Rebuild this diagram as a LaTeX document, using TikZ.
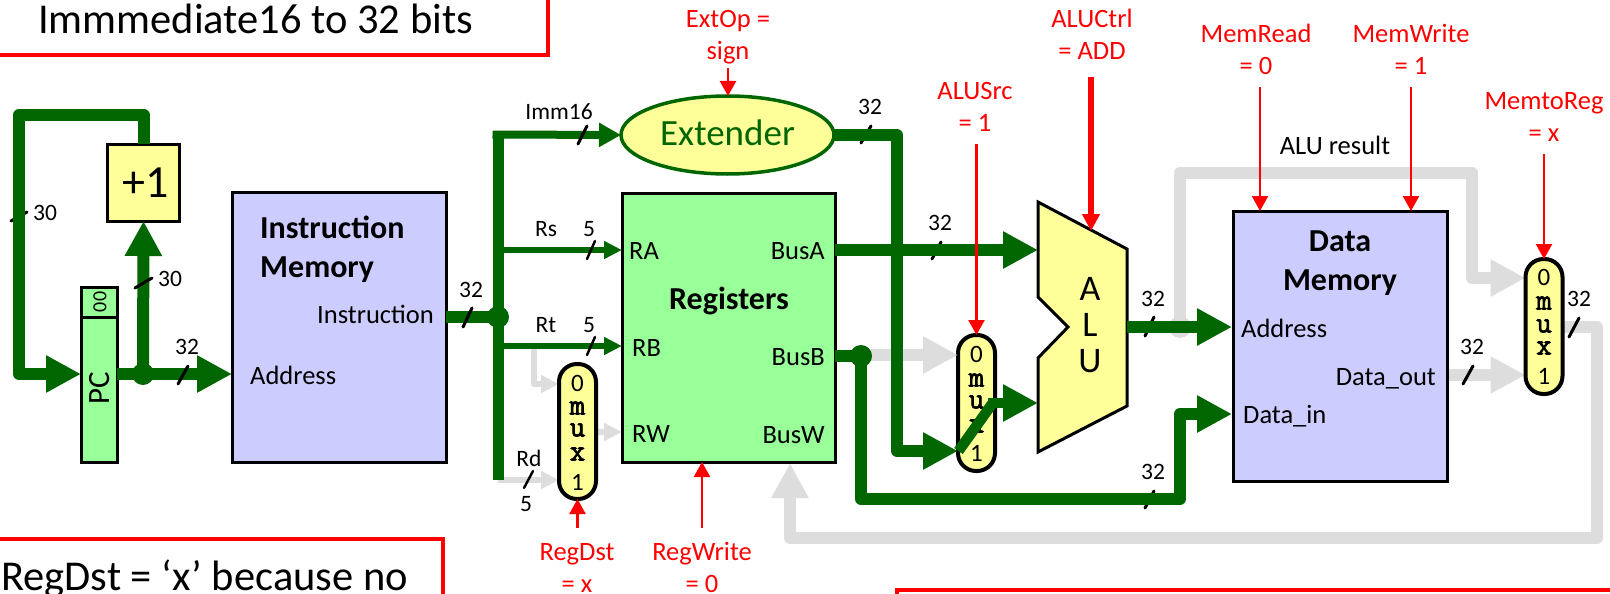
\documentclass[tikz,border=0pt]{standalone}
\usepackage{fontspec}
\setmainfont{Carlito}
\newfontfamily\muxfont{Latin Modern Mono}[FakeBold=2.5]
\usetikzlibrary{arrows.meta,shapes.geometric}
\pgfdeclarelayer{background}
\pgfsetlayers{background,main}
\definecolor{dkgreen}{HTML}{006600}
\definecolor{ltgreen}{HTML}{99FF99}
\definecolor{ltblue}{HTML}{CCCCFF}
\definecolor{ltyellow}{HTML}{FFFF99}
\definecolor{wiregray}{HTML}{DDDDDD}
\newcommand{\fs}[2]{\fontsize{#1}{#2}\selectfont}
% two-line label: the fixed strut makes the node's north edge 20pt above the first baseline
\newcommand{\twoline}[2]{\rule{0pt}{20pt}#1\\#2}
\newcommand{\muxlabels}[7]{%
  \node[muxdigit] (#1zero) at (#2,#3) {0};
  \node[muxletter] (#1m) at (#2,#4) {m};
  \node[muxletter] (#1u) at (#2,#5) {u};
  \node[muxletter] (#1x) at (#2,#6) {x};
  \node[muxdigit] (#1one) at (#2,#7) {1};
}
\tikzset{
  block/.style={draw=black,line width=3pt,inner sep=0pt,outer sep=0pt,line join=miter},
  muxbox/.style={block,line width=4pt,fill=ltyellow,rounded corners=18pt,minimum width=37pt},
  muxdigit/.style={inner sep=0pt,font=\fs{25}{30}},
  muxletter/.style={inner sep=0pt,font=\muxfont\fs{30}{30}},
  dot/.style={circle,fill=#1,inner sep=0pt,minimum size=22pt,outer sep=0pt},
  bigwire/.style={draw=dkgreen,line width=12pt,line join=round},
  bigtip/.style={-{Triangle[length=35pt,width=35pt]}},
  midtip/.style={-{Triangle[length=18pt,width=17pt]}},
  ctltip/.style={-{Triangle[length=15pt,width=16pt]}},
  midwire/.style={draw=dkgreen,line width=6.5pt,line join=round},
  graywire/.style={draw=wiregray,line width=12pt,line join=round},
  thingray/.style={draw=wiregray,line width=6pt,line join=round},
  ctl/.style={draw=red,line width=2.3pt},
  ctlthick/.style={draw=red,line width=6pt},
  tick/.style={draw=black,line width=3pt,line cap=round},
  sig/.style={inner sep=0pt,font=\fs{26.5}{30}},
  bits/.style={inner sep=0pt,font=\fs{23.5}{28},anchor=base},
  title/.style={inner sep=0pt,font=\bfseries\fs{32}{39}},
  ctltext/.style={inner sep=0pt,text=red,font=\fs{26.5}{32},align=center,anchor=north},
  note/.style={inner sep=0pt,font=\fs{42.5}{48},anchor=base west},
  notebox/.style={draw=red,line width=3.7pt,line join=miter},
}
\begin{document}
\begin{tikzpicture}[x=1pt,y=-1pt]
\useasboundingbox (0,0) rectangle (1610,594);

% ---- blocks
\node[block,fill=ltyellow,minimum width=72pt,minimum height=77pt,font=\fs{46}{50}] (inc) at (143.5,182.5) {\hspace{5pt}+1};
\node[block,fill=ltgreen,minimum width=36pt,minimum height=30pt] (pctop) at (99,302) {};
\node[block,fill=ltgreen,minimum width=36pt,minimum height=145pt] (pcb) at (99,389.5) {};
\node[inner sep=0pt,rotate=90,font=\fs{31}{32}] (pclabel) at (100,388) {PC};
\node[inner sep=0pt,rotate=90,font=\fs{20}{20}] (pczero) at (100,302) {00};
\node[block,fill=ltblue,minimum width=214pt,minimum height=270pt] (im) at (339,327) {};
\node[block,fill=ltgreen,minimum width=213pt,minimum height=269pt] (reg) at (728.5,327.5) {};
\node[block,fill=ltblue,minimum width=214pt,minimum height=270pt] (dm) at (1340,346) {};
\node[ellipse,draw=dkgreen,line width=3.5pt,fill=ltyellow,inner sep=0pt,outer sep=0pt,minimum width=213pt,minimum height=78pt,text=dkgreen,font=\fs{37}{40}] (ext) at (727.5,135) {\raisebox{4pt}{Extender}};
\node[muxbox,minimum height=135pt] (mx1) at (577.5,431.5) {};
\node[muxbox,minimum height=136pt] (mx2) at (976.5,403) {};
\node[muxbox,minimum height=135pt] (mx3) at (1544,326.5) {};
\muxlabels{a}{577.5}{383}{408}{430}{454}{482}
\muxlabels{b}{976.5}{354}{380}{402}{426}{453}
\muxlabels{c}{1544}{277}{303}{326}{348}{376}
\draw[block,fill=ltyellow,line join=miter] (1038,202) -- (1127,249) -- (1127,406) -- (1038,452) -- (1038,358) -- (1068,327) -- (1038,297) -- cycle;
\node[inner sep=0pt,font=\fs{36}{36},align=center,anchor=north] (alulabel) at (1090,275) {\rule{0pt}{25pt}A\\L\\U};

% ---- named points on the wires
\coordinate (fbtop) at (19,115);
\coordinate (bustop) at (498,131);
\coordinate (busbot) at (498,480);
\coordinate (immstart) at (492.5,134.5);
\coordinate (rsy) at (498,250);
\coordinate (rty) at (498,346);
\coordinate (extcorner) at (897,135);
\coordinate (m2in) at (897,451);
\coordinate (alua) at (1038,250);
\coordinate (alub) at (1038,403);
\coordinate (aluout) at (1127,327);
\coordinate (diag1) at (958.5,451);
\coordinate (diag2) at (992,404);
\coordinate (m2out) at (988,403);
\coordinate (dmaddr) at (1232,327);
\coordinate (dmin) at (1232,414);
\coordinate (botleft) at (861,499);
\coordinate (botright) at (1180,499);
\coordinate (graybr) at (534,346);
\coordinate (graybr2) at (534,384);
\coordinate (rwy) at (622,432);
\coordinate (gtop) at (1180,173);
\coordinate (gright) at (1472,173);
\coordinate (gdown) at (1472,278);
\coordinate (m3out) at (1597,327);
\coordinate (m3bot) at (1597,538);
\coordinate (fbleft) at (790,538);
\coordinate (fbup) at (790,463);
\coordinate (dout) at (1447,375);
\coordinate (bbgray) at (861,355);
\coordinate (alutip) at (1091,231);

% ---- grey inactive wires and the ticks that lie under the wires
\begin{pgfonlayer}{background}
  \node[dot=wiregray] (galu) at (1180,327) {};
  \draw[graywire,bigtip] (galu.center) -- (gtop) -- (gright) -- (gdown) -- (mx3.west |- gdown);
  \draw[graywire,bigtip] (dout) -- (mx3.west |- dout);
  \draw[graywire,bigtip] (mx3.east |- m3out) -- (m3out) -- (m3bot) -- (fbleft) -- (fbup);
  \draw[thingray,midtip] (graybr) -- (graybr2) -- (mx1.west |- graybr2);
  \draw[thingray,midtip] (mx1.east |- rwy) -- (rwy);
  \draw[thingray,midtip] (busbot) -- (mx1.west |- busbot);
\end{pgfonlayer}
\draw[graywire,bigtip] (bbgray) -- (mx2.west |- bbgray);

\draw[tick] (11,221) -- (27,212);
\draw[tick] (861,143) -- (871,126);
\draw[tick] (932,259) -- (941,242);
\draw[tick] (1145,336) -- (1154,317);
\draw[tick] (1145,508) -- (1154,491);

% ---- junction dots
\node[dot=dkgreen] (j1) at (143,374) {};
\node[dot=dkgreen] (j2) at (498,317) {};
\node[dot=dkgreen] (j3) at (861,356) {};

% ---- green active wires
\draw[bigwire,bigtip] (inc.north) |- (fbtop) |- (pcb.west |- j1);
\draw[bigwire] (pcb.east |- j1) -- (j1.center);
\draw[bigwire,bigtip] (j1.center) -- (inc.south);
\draw[bigwire,bigtip] (j1.center) -- (im.west |- j1);
\draw[bigwire] (im.east |- j2) -- (j2.center);
\draw[draw=dkgreen,line width=11pt,line join=round] (busbot) -- (bustop);
\draw[draw=dkgreen,line width=8pt,line join=round,-{Triangle[length=22pt,width=23pt]}] (immstart) -- (ext.west);
\draw[midwire,midtip] (rsy) -- (reg.west |- rsy);
\draw[midwire,midtip] (rty) -- (reg.west |- rty);
\draw[bigwire,bigtip] (ext.east) -- (extcorner) |- (mx2.west |- m2in);
\draw[bigwire,bigtip] (reg.east |- rsy) -- (alua);
\draw[bigwire] (reg.east |- j3) -- (j3.center);
\draw[bigwire,bigtip] (j3.center) -- (botleft) -- (botright) |- (dmin);
\draw[bigwire,bigtip] (aluout) -- (dmaddr);
\draw[draw=dkgreen,line width=10.5pt] (diag1) -- (diag2);
\draw[draw=dkgreen,line width=10pt,bigtip] (m2out) -- (alub);

% ---- ticks above the wires
\draw[tick] (135,288) -- (152,278);
\draw[tick] (178,384) -- (188,366);
\draw[tick] (463,327) -- (472,308);
\draw[tick] (578,144) -- (587,126);
\draw[tick,line width=2.4pt] (587,259) -- (595,241);
\draw[tick,line width=2.4pt] (587,355) -- (595,337);
\draw[tick,line width=2.4pt] (524,488) -- (533,471);
\draw[tick] (1463,384) -- (1473,366);
\draw[tick] (1569,337) -- (1579,318);

% ---- control signals
\coordinate (ctlextop) at (728,68);
\coordinate (ctlalusrc) at (976.5,144);
\coordinate (ctlaluctrl) at (1091,77);
\coordinate (ctlmemread) at (1260,87);
\coordinate (ctlmemwrite) at (1411,87);
\coordinate (ctlmemtoreg) at (1544,154);
\coordinate (ctlregdst) at (577.5,528);
\coordinate (ctlregwrite) at (702,528);
\draw[ctl,ctltip] (ctlextop) -- (ctlextop |- ext.north);
\draw[ctl,ctltip] (ctlalusrc) -- (mx2.north);
\draw[ctlthick,-{Triangle[length=17pt,width=17pt]}] (ctlaluctrl) -- (alutip);
\draw[ctl,ctltip] (ctlmemread) -- (ctlmemread |- dm.north);
\draw[ctl,ctltip] (ctlmemwrite) -- (ctlmemwrite |- dm.north);
\draw[ctl,ctltip] (ctlmemtoreg) -- (mx3.north);
\draw[ctl,ctltip] (ctlregdst) -- (mx1.south);
\draw[ctl,ctltip] (ctlregwrite) -- (ctlregwrite |- reg.south);

\node[ctltext] (tregdst) at (577,540) {\twoline{RegDst}{= x}};
\node[ctltext] (tregwrite) at (702,540) {\twoline{RegWrite}{= 0}};
\node[ctltext] (textop) at (728,7) {\twoline{ExtOp =}{sign}};
\node[ctltext] (talusrc) at (975,79) {\twoline{ALUSrc}{= 1}};
\node[ctltext] (taluctrl) at (1092,7) {\twoline{ALUCtrl}{= ADD}};
\node[ctltext] (tmemread) at (1256,22) {\twoline{MemRead}{= 0}};
\node[ctltext] (tmemwrite) at (1411,22) {\twoline{MemWrite}{= 1}};
\node[ctltext] (tmemtoreg) at (1544,89) {\twoline{MemtoReg}{= x}};

% ---- block titles
\node[title,align=left,anchor=north west] (timem) at (260,213) {\rule{0pt}{25pt}Instruction\\Memory};
\node[title,anchor=base] (treg) at (729,309) {Registers};
\node[title,align=center,anchor=north] (tdmem) at (1340,226.5) {\rule{0pt}{25pt}Data\\Memory};

% ---- port and wire labels
\node[sig,anchor=base east] (pinstr) at (434,323) {Instruction};
\node[sig,anchor=base west] (paddr) at (250,384) {Address};
\node[sig,anchor=base west] (pra) at (629,259) {RA};
\node[sig,anchor=base west] (prb) at (632,356) {RB};
\node[sig,anchor=base west] (prw) at (632,442) {RW};
\node[sig,anchor=base east] (pbusa) at (825,259) {BusA};
\node[sig,anchor=base east] (pbusb) at (825,365) {BusB};
\node[sig,anchor=base east] (pbusw) at (825,443) {BusW};
\node[sig,anchor=base west] (pdaddr) at (1241,337) {Address};
\node[sig,anchor=base east] (pdout) at (1436,385) {Data\_out};
\node[sig,anchor=base west] (pdin) at (1243,423) {Data\_in};
\node[bits] (n30a) at (45,220) {30};
\node[bits] (n30b) at (170,286) {30};
\node[bits] (n32a) at (187,354) {32};
\node[bits] (n32b) at (471,297) {32};
\node[bits] (nimm) at (559,120) {Imm16};
\node[bits] (nrs) at (546,236) {Rs};
\node[bits] (nrsw) at (589,236) {5};
\node[bits] (nrt) at (546,332) {Rt};
\node[bits] (nrtw) at (589,332) {5};
\node[bits] (nrd) at (529,466) {Rd};
\node[bits] (nrdw) at (526,511) {5};
\node[bits] (n32c) at (870,114) {32};
\node[bits] (n32d) at (940,230) {32};
\node[bits] (n32e) at (1153,306) {32};
\node[bits] (n32f) at (1153,479) {32};
\node[bits] (n32g) at (1472,354) {32};
\node[bits] (n32h) at (1579,306) {32};
\node[sig,anchor=base] (nalures) at (1335,154) {ALU result};

% ---- note boxes, cut by the edge of the picture
\draw[notebox] (0,55) -- (548,55) -- (548,0);
\node[note] (note1) at (38,34) {Immmediate16 to 32 bits};
\draw[notebox] (0,539) -- (443,539) -- (443,594);
\node[note] (note2) at (1,590) {RegDst = ‘x’ because no};
\draw[notebox] (1610,590) -- (897,590) -- (897,594);
\end{tikzpicture}
\end{document}
